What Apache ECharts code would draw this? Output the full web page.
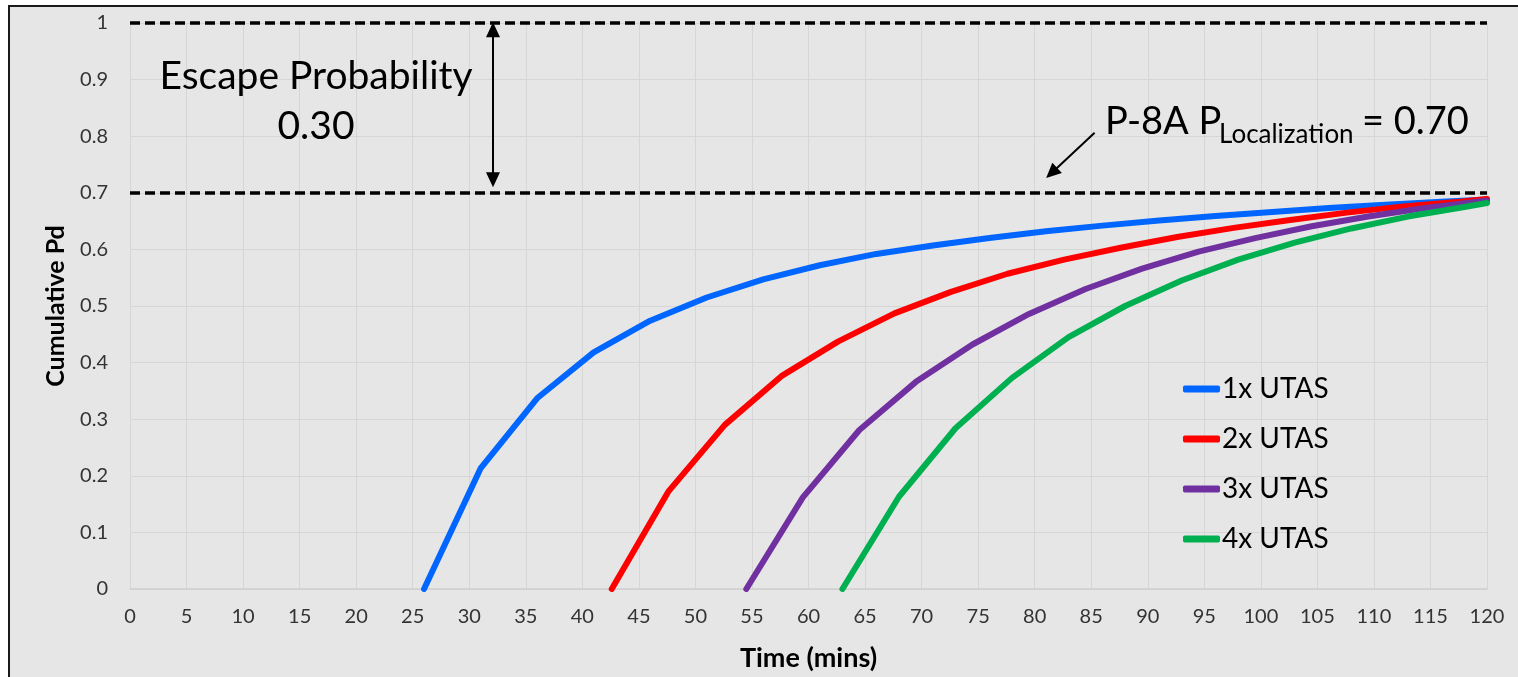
<!DOCTYPE html>
<html>
<head>
<meta charset="utf-8">
<script src="https://cdn.jsdelivr.net/npm/echarts@6/dist/echarts.min.js"></script>
<style>
  html, body { margin: 0; padding: 0; background: #ffffff; }
  #chart { width: 1518px; height: 677px; }
</style>
</head>
<body>
<div id="chart"></div>
<script>
// Cumulative detection probability vs. time for 1-4 UTAS sensors
const seriesNames = ['1x UTAS', '2x UTAS', '3x UTAS', '4x UTAS'];
const seriesColors = ['#0066ff', '#ff0000', '#7030a0', '#00b050'];

const timeUtas1 = [26, 31, 36, 41, 46, 51, 56, 61, 66, 71, 76, 81, 86, 91, 96, 101, 106, 111, 116, 120];
const pdUtas1   = [0, 0.213, 0.337, 0.418, 0.474, 0.515, 0.547, 0.572, 0.592, 0.607, 0.620, 0.632, 0.642, 0.651, 0.659, 0.666, 0.673, 0.679, 0.684, 0.688];

const timeUtas2 = [42.6, 47.6, 52.6, 57.6, 62.6, 67.6, 72.6, 77.6, 82.6, 87.6, 92.6, 97.6, 102.6, 107.6, 112.6, 117.6, 120];
const pdUtas2   = [0, 0.172, 0.290, 0.376, 0.437, 0.487, 0.525, 0.557, 0.582, 0.603, 0.622, 0.638, 0.652, 0.665, 0.676, 0.684, 0.689];

const timeUtas3 = [54.5, 59.5, 64.5, 69.5, 74.5, 79.5, 84.5, 89.5, 94.5, 99.5, 104.5, 109.5, 114.5, 119.5, 120];
const pdUtas3   = [0, 0.162, 0.281, 0.366, 0.432, 0.486, 0.530, 0.566, 0.596, 0.620, 0.641, 0.658, 0.673, 0.685, 0.686];

const timeUtas4 = [63, 68, 73, 78, 83, 88, 93, 98, 103, 108, 113, 118, 120];
const pdUtas4   = [0, 0.163, 0.284, 0.373, 0.445, 0.500, 0.545, 0.582, 0.612, 0.637, 0.658, 0.675, 0.682];

// Reference levels and annotation arrows (data coordinates)
const localizationLevel = 0.7;
const certaintyLevel = 1.0;
const escapeArrow = [[32.1, 0.988], [32.1, 0.723]];
const localizationArrow = [[85.3, 0.806], [81.5, 0.735]];

const xTicks = { min: 0, max: 120, interval: 5 };
const yTicks = { min: 0, max: 1, interval: 0.1 };

const allTimes = [timeUtas1, timeUtas2, timeUtas3, timeUtas4];
const allPd = [pdUtas1, pdUtas2, pdUtas3, pdUtas4];

const FONT = 'Lato, "Open Sans", sans-serif';
const chart = echarts.init(document.getElementById('chart'), null, { renderer: 'canvas' });

const curveSeries = seriesNames.map((name, i) => ({
  name: name,
  type: 'line',
  data: allTimes[i].map((t, k) => [t, allPd[i][k]]),
  showSymbol: false,
  symbol: 'none',
  smooth: false,
  z: 3,
  lineStyle: { color: seriesColors[i], width: 6, cap: 'round', join: 'round' },
  itemStyle: { color: seriesColors[i] },
  emphasis: { disabled: true },
  animation: false
}));

const annotationSeries = {
  name: 'annotations',
  type: 'line',
  data: [],
  silent: true,
  z: 4,
  markLine: {
    silent: true,
    animation: false,
    label: { show: false },
    emphasis: { disabled: true },
    data: [
      { yAxis: localizationLevel, symbol: 'none', lineStyle: { color: '#000', width: 3.5, type: [10, 5] } },
      { yAxis: certaintyLevel, symbol: 'none', lineStyle: { color: '#000', width: 3.5, type: [10, 5] } },
      [
        { coord: escapeArrow[0], symbol: 'triangle', symbolSize: [14, 15] },
        { coord: escapeArrow[1], symbol: 'triangle', symbolSize: [14, 15], lineStyle: { color: '#000', width: 2, type: 'solid' } }
      ],
      [
        { coord: localizationArrow[0], symbol: 'none' },
        { coord: localizationArrow[1], symbol: 'triangle', symbolSize: [14, 15], lineStyle: { color: '#000', width: 2, type: 'solid' } }
      ]
    ],
    symbol: ['none', 'none']
  }
};

// Annotation text, placed by the top of its text box
function label(x, top, text, size, align) {
  return {
    type: 'text', z: 10, silent: true, x: x, y: top,
    style: { text: text, font: size + 'px ' + FONT, fill: '#000', align: align || 'left', verticalAlign: 'top' }
  };
}

const option = {
  backgroundColor: '#ffffff',
  animation: false,
  textStyle: { fontFamily: FONT },
  graphic: [
    {
      type: 'rect', z: -10, silent: true,
      shape: { x: 9, y: 6, width: 1540, height: 700 },
      style: { fill: '#e6e6e6', stroke: '#1a1a1a', lineWidth: 2 }
    },
    label(316, 57, 'Escape Probability', 39, 'center'),
    label(316, 107, '0.30', 39, 'center'),
    label(1105, 103, 'P-8A P', 38),
    label(1219, 122, 'Localization', 26),
    label(1362, 103, '= 0.70', 38)
  ],
  grid: { left: 130, right: 31, top: 23, bottom: 88, containLabel: false },
  legend: {
    orient: 'vertical',
    left: 1183,
    top: 374,
    padding: 0,
    itemWidth: 37,
    itemHeight: 7,
    itemGap: 20,
    icon: 'roundRect',
    data: seriesNames,
    textStyle: { fontFamily: FONT, fontSize: 28, color: '#000', lineHeight: 30, padding: [0, 0, 0, -3] },
    selectedMode: false
  },
  xAxis: {
    type: 'value',
    min: xTicks.min, max: xTicks.max, interval: xTicks.interval,
    name: 'Time (mins)',
    nameLocation: 'middle',
    nameGap: 56,
    nameTextStyle: { fontFamily: FONT, fontSize: 27, fontWeight: 'bold', color: '#000' },
    axisLine: { show: true, lineStyle: { color: '#d0d0d0', width: 1.5 } },
    axisTick: { show: false },
    axisLabel: { fontFamily: FONT, fontSize: 20, color: '#333', margin: 18 },
    splitLine: { show: true, lineStyle: { color: '#d6d6d6', width: 1 } }
  },
  yAxis: {
    type: 'value',
    min: yTicks.min, max: yTicks.max, interval: yTicks.interval,
    name: 'Cumulative Pd',
    nameLocation: 'middle',
    nameGap: 62,
    nameTextStyle: { fontFamily: FONT, fontSize: 25, fontWeight: 'bold', color: '#000' },
    axisLine: { show: false },
    axisTick: { show: false },
    axisLabel: { fontFamily: FONT, fontSize: 20, color: '#333', margin: 22 },
    splitLine: { show: true, lineStyle: { color: '#d6d6d6', width: 1 } }
  },
  series: curveSeries.concat([annotationSeries])
};

chart.setOption(option);
</script>
</body>
</html>
